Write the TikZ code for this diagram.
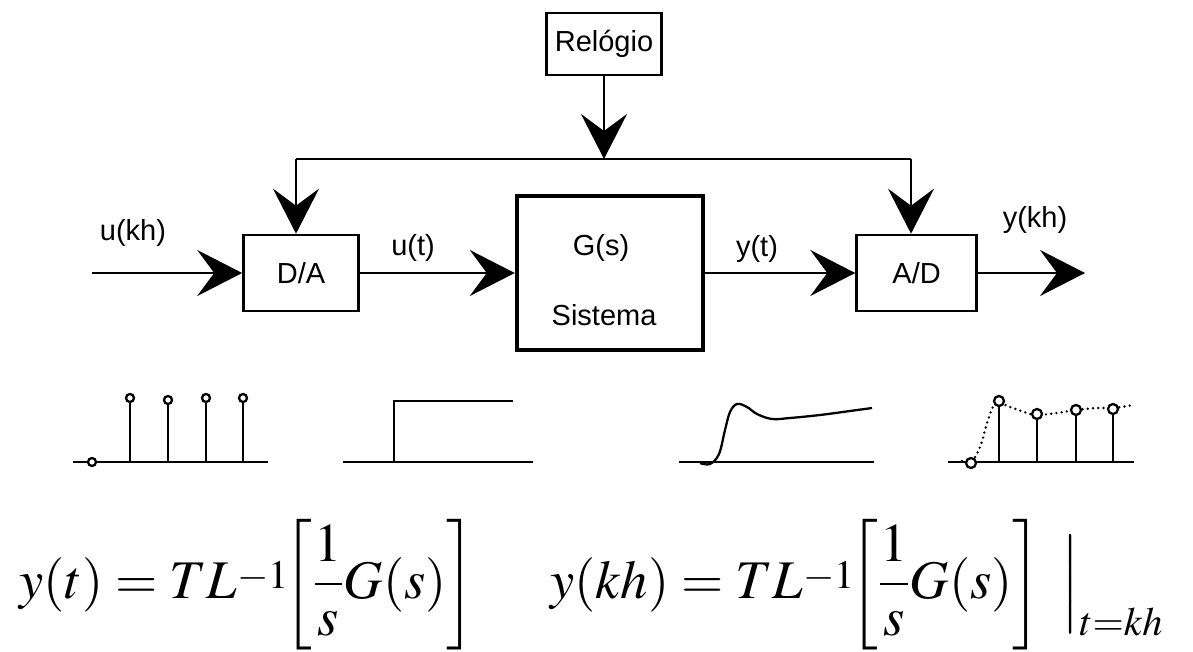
\documentclass[tikz,border=0pt]{standalone}
\usepackage{amsmath}
\usepackage[no-math]{fontspec}
\usepackage{mathptmx}
\setsansfont{Liberation Sans}
\usepackage{tikz}
\usetikzlibrary{arrows.meta,positioning,calc}
\tikzset{
  block/.style={
    draw,
    line width=1.5pt,
    minimum width=2.3cm,
    minimum height=1.52cm,
    inner sep=2pt,
    font=\sffamily\fontsize{16.5}{20}\selectfont
  },
  sysbox/.style={
    draw,
    line width=2.6pt,
    minimum width=3.72cm,
    minimum height=3.08cm
  },
  lbl/.style={inner sep=1pt, font=\sffamily\fontsize{16.5}{20}\selectfont},
  eqn/.style={inner sep=0pt, font=\fontsize{31}{36}\selectfont},
  arrow/.style={-{Stealth[length=9mm, width=9.2mm, inset=3.4mm]}, line width=1.5pt},
  wire/.style={line width=1.5pt},
  axis/.style={line width=1.3pt},
  stem/.style={line width=1.2pt},
  ring/.style={draw, line width=1.3pt, fill=white},
  trace/.style={line width=1.3pt, line join=round},
  dottrace/.style={line width=1.5pt, line cap=round, dash pattern=on 0pt off 3pt}
}
\newcommand{\invL}{L^{\raisebox{-0.2em}{$\scriptstyle -1$}}\!\!}

\begin{document}
\begin{tikzpicture}[x=0.02cm, y=-0.02cm]
  \useasboundingbox (0,0) rectangle (1193,652);

  % blocks
  \node[block] (da) at (301,273) {D/A};
  \node[sysbox, right=3.1cm of da] (sys) {};
  \node[block, minimum width=2.4cm, right=3cm of sys] (ad) {A/D};
  \node[block, minimum height=1.24cm] (clk) at (604,44) {Relógio};
  \node[lbl] (gs) at ([xshift=-0.18cm, yshift=-1.08cm]sys.north) {G(s)};
  \node[lbl] (sname) at ([xshift=-0.12cm, yshift=0.74cm]sys.south) {Sistema};

  % clock bus
  \coordinate (busL) at (296,159);
  \coordinate (busR) at (911,159);
  \draw[wire] (busL) -- (busR);
  \draw[arrow] (clk) -- (clk |- busL);
  \draw[arrow] (busL) -- (busL |- da.north);
  \draw[arrow] (busR) -- (busR |- ad.north);

  % signal path
  \coordinate (in) at (92,273);
  \coordinate (out) at (1085,273);
  \draw[arrow] (in) -- (da);
  \draw[arrow] (da) -- (sys.west |- da);
  \draw[arrow] (sys.east |- ad) -- (ad);
  \draw[arrow] (ad) -- (out);

  \node[lbl] (ukh) at (133,233) {u(kh)};
  \node[lbl] (ut) at (413,248) {u(t)};
  \node[lbl] (yt) at (757,249) {y(t)};
  \node[lbl] (ykh) at (1035,220) {y(kh)};

  % sequence u(kh)
  \draw[axis] (73,462) -- (268,462);
  \foreach \x/\y in {130/398, 168/400, 206/398, 243/398}
    \draw[stem] (\x,462) -- (\x,\y+4);
  \foreach \x/\y in {92/462, 130/398, 168/400, 206/398, 243/398}
    \draw[ring] (\x,\y) circle[radius=0.08cm];

  % step u(t)
  \draw[axis] (343,462) -- (533,462);
  \draw[axis] (394,462) -- (394,401) -- (513,401);

  % response y(t)
  \draw[axis] (679,462) -- (874,462);
  \draw[trace] plot[smooth, tension=0.6] coordinates {(700,463) (710,464) (719,454)
    (725,430) (730,412) (737,404) (747,407) (757,414) (772,419) (790,418)
    (820,415) (850,411) (872,408)};

  % samples y(kh)
  \draw[axis] (948,462) -- (1134,462);
  \draw[dottrace] plot[smooth, tension=0.6] coordinates {(962,461) (971,462) (980,447)
    (988,420) (996,403) (1010,407) (1027,413) (1037,415) (1057,413) (1076,410)
    (1097,408) (1113,408) (1133,405)};
  \foreach \x/\y in {999/401, 1037/414, 1076/410, 1113/409}
    \draw[stem] (\x,462) -- (\x,\y+5);
  \foreach \x/\y in {971/463, 999/401, 1037/414, 1076/410, 1113/409}
    \draw[ring] (\x,\y) circle[radius=0.1cm];

  % formulas
  \node[eqn, anchor=base west] (f1) at (19,598)
    {$y(t) = T\invL\left[\rule[-0.9em]{0pt}{2.3em}\dfrac{1}{s}G(s)\right]$};
  \node[eqn, anchor=base west] (f2) at (550,598)
    {$y(kh) = T\invL\left[\rule[-0.9em]{0pt}{2.3em}\dfrac{1}{s}G(s)\right]\;
     \left.\rule[-0.45em]{0pt}{0.95em}\right|_{t=kh}$};
\end{tikzpicture}
\end{document}
